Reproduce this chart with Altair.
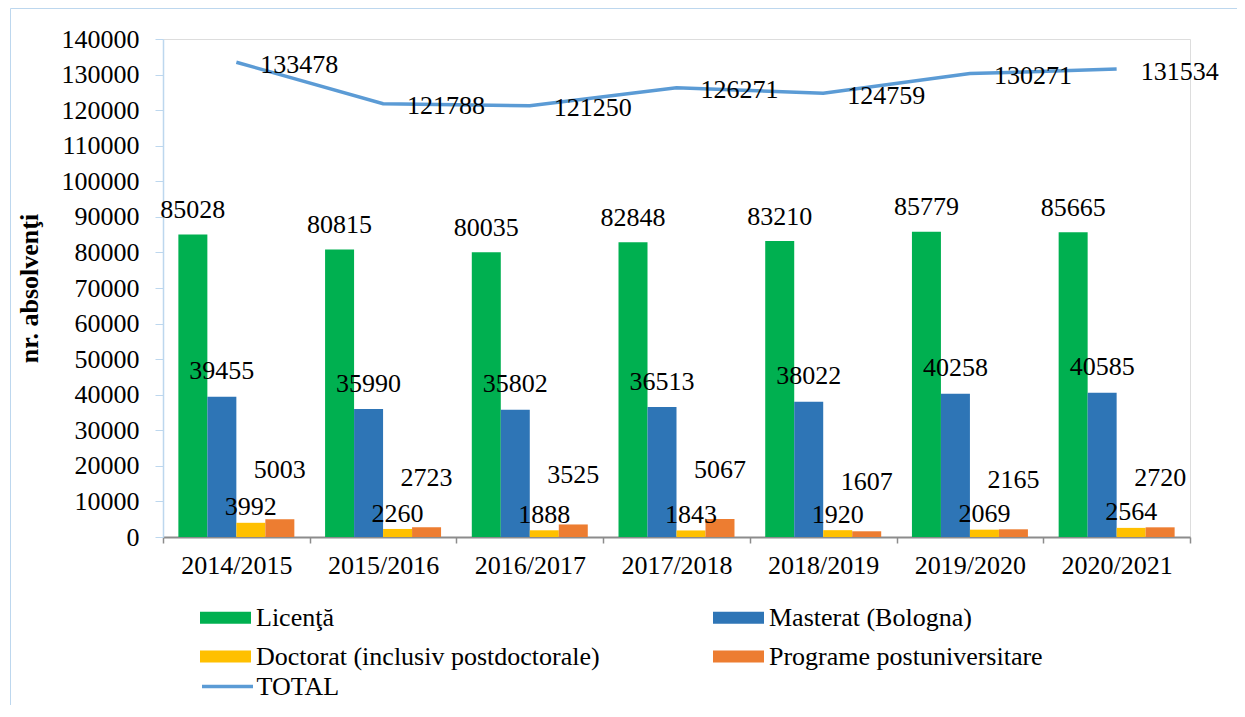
import altair as alt
import pandas as pd

# ---------------- data ----------------
years = ["2014/2015", "2015/2016", "2016/2017", "2017/2018", "2018/2019", "2019/2020", "2020/2021"]
series_names = ["Licenţă", "Masterat (Bologna)", "Doctorat (inclusiv postdoctorale)", "Programe postuniversitare"]
licenta = [85028, 80815, 80035, 82848, 83210, 85779, 85665]
masterat = [39455, 35990, 35802, 36513, 38022, 40258, 40585]
doctorat = [3992, 2260, 1888, 1843, 1920, 2069, 2564]
postuniv = [5003, 2723, 3525, 5067, 1607, 2165, 2720]
total = [133478, 121788, 121250, 126271, 124759, 130271, 131534]
total_name = "TOTAL"
y_ticks = list(range(0, 140001, 10000))

series_colors = ["#00B050", "#2E75B6", "#FFC000", "#ED7D31"]
total_color = "#5B9BD5"

FONT = "Liberation Serif"
FS = 26
W, H = 1027, 498

rows = []
for name, vals in zip(series_names, [licenta, masterat, doctorat, postuniv]):
    for yr, v in zip(years, vals):
        rows.append({"year": yr, "series": name, "value": v})
bars_df = pd.DataFrame(rows)
total_df = pd.DataFrame({"year": years, "value": total, "name": [total_name] * len(years)})

# ---------------- encodings ----------------
x_enc = alt.X(
    "year:N", sort=years,
    scale=alt.Scale(domain=years, paddingInner=0, paddingOuter=0),
    axis=alt.Axis(
        title=None, labelAngle=0, labelFont=FONT, labelFontSize=FS, labelColor="black",
        labelBaseline="alphabetic", labelPadding=30, tickSize=6, tickBand="extent",
        domainColor="#8C8C8C", domainWidth=2, tickColor="#8C8C8C", tickWidth=1.5, grid=False,
    ),
)
y_enc = alt.Y(
    "value:Q",
    scale=alt.Scale(domain=[0, 140000], nice=False, zero=True),
    axis=alt.Axis(
        values=y_ticks, format="d", grid=False,
        labelFont=FONT, labelFontSize=FS, labelColor="black", labelPadding=16,
        tickSize=8, tickColor="#BDD7EE", domainColor="#BDD7EE", domainWidth=1.5,
        title="nr. absolvenţi", titleFont=FONT, titleFontSize=FS, titleFontWeight="bold",
        titleColor="black", titleAngle=270, titleX=-126, titleY=H / 2,
        titleAlign="center", titleBaseline="alphabetic",
    ),
)
xoff = alt.XOffset(
    "series:N", sort=series_names,
    scale=alt.Scale(domain=series_names, paddingInner=0, paddingOuter=0.53),
)

# ---------------- layers ----------------
border = alt.Chart(pd.DataFrame({"k": [0]})).mark_rect(
    fillOpacity=0, stroke="#BDD7EE", strokeWidth=1
).encode(
    x=alt.value(-152.5), x2=alt.value(1120), y=alt.value(-30.5), y2=alt.value(720)
)

bars = alt.Chart(bars_df).mark_bar().encode(
    x=x_enc, xOffset=xoff, y=y_enc,
    color=alt.Color(
        "series:N", sort=series_names,
        scale=alt.Scale(domain=series_names, range=series_colors),
        legend=alt.Legend(
            orient="none", legendX=37, legendY=553, columns=2, direction="horizontal",
            title=None,
            symbolType="M-1,-0.24H1V0.24H-1Z", symbolSize=2601, symbolStrokeWidth=0,
            symbolOpacity=1, labelFont=FONT, labelFontSize=FS, labelColor="black",
            labelLimit=800, labelOffset=5, columnPadding=113, rowPadding=-7, padding=0,
        ),
    ),
)

line = alt.Chart(total_df).mark_line(strokeWidth=3.5).encode(
    x=x_enc, y=y_enc,
    stroke=alt.Stroke(
        "name:N",
        scale=alt.Scale(domain=[total_name], range=[total_color]),
        legend=alt.Legend(
            orient="none", legendX=37, legendY=620, title=None,
            symbolType="stroke", symbolSize=2601, symbolStrokeWidth=3.5,
            labelFont=FONT, labelFontSize=FS, labelColor="black",
            labelLimit=800, labelOffset=1.5, padding=0,
        ),
    ),
)

label_dy = {series_names[0]: -16.4, series_names[1]: -17.4, series_names[2]: -7.4, series_names[3]: -41}


def bar_labels(name):
    return alt.Chart(bars_df[bars_df["series"] == name]).mark_text(
        font=FONT, fontSize=FS, color="black", baseline="alphabetic", align="center",
        dy=label_dy[name],
    ).encode(x=x_enc, xOffset=xoff, y=y_enc, text=alt.Text("value:Q", format="d"))


line_labels = alt.Chart(total_df).mark_text(
    font=FONT, fontSize=FS, color="black", baseline="alphabetic", align="left", dx=24, dy=10.6
).encode(x=x_enc, y=y_enc, text=alt.Text("value:Q", format="d"))

chart = alt.layer(
    border, bars, line, *[bar_labels(n) for n in series_names], line_labels
).properties(
    width=W, height=H,
    padding={"left": 155, "top": 31, "right": 47, "bottom": 168},
    autosize=alt.AutoSizeParams(type="none"),
).configure_view(strokeWidth=0).configure(background="white", font=FONT)

chart.save("out.html", embed_options={"renderer": "svg", "actions": False})
